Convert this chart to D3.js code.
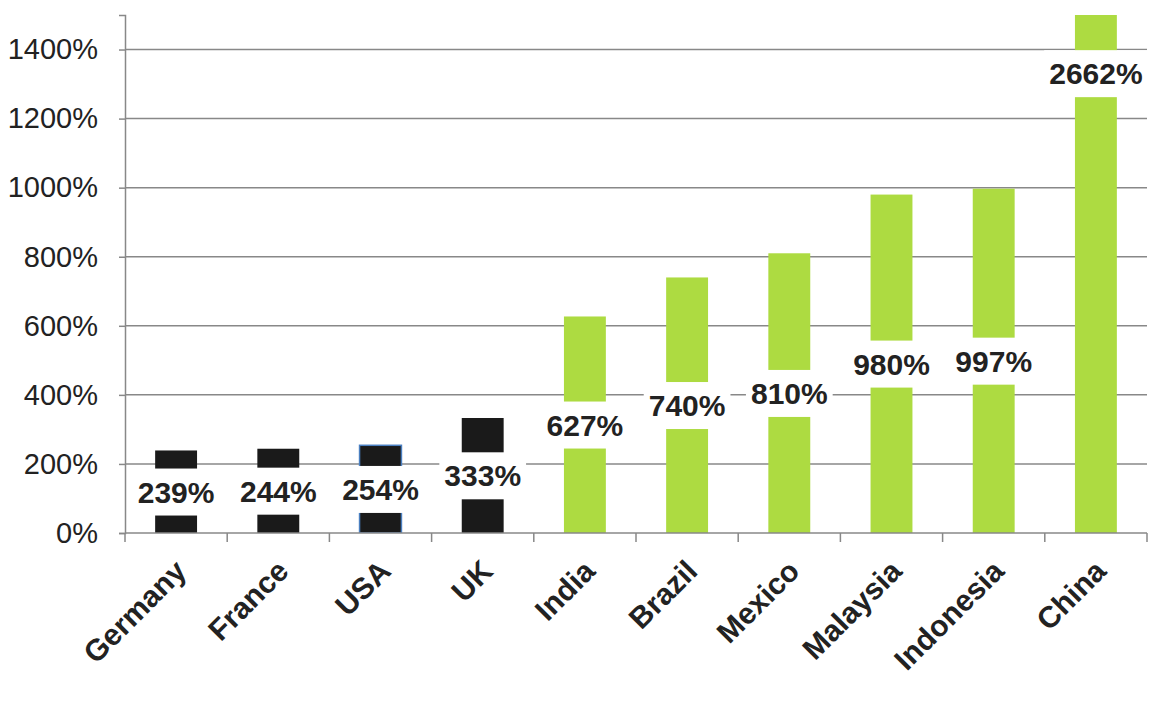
<!DOCTYPE html>
<html><head><meta charset="utf-8">
<script src="https://cdn.jsdelivr.net/npm/d3@7"></script>
<style>body{margin:0;background:#fff}</style>
</head><body>
<div id="chart"></div>
<script>
// data
const countries = ["Germany","France","USA","UK","India","Brazil","Mexico","Malaysia","Indonesia","China"]
const growth = [239,244,254,333,627,740,810,980,997,2662]
const developed = [true,true,true,true,false,false,false,false,false,false]
const yTicks = [0,200,400,600,800,1000,1200,1400]

const width = 1170, height = 703
const margin = {top: 15, right: 23, bottom: 170, left: 125}

const svg = d3.select("#chart").append("svg")
  .attr("width", width).attr("height", height)
  .style("font-family", "Helvetica, Arial, 'Liberation Sans', sans-serif")

const x = d3.scaleBand().domain(countries)
  .range([margin.left, width - margin.right]).paddingInner(0.59).paddingOuter(0.295)
const y = d3.scaleLinear().domain([0, 1500]).range([height - margin.bottom, margin.top])

// gridlines
svg.append("g").selectAll("line").data(yTicks.slice(1)).join("line")
  .attr("x1", margin.left).attr("x2", width - margin.right)
  .attr("y1", d => y(d)).attr("y2", d => y(d))
  .attr("stroke", "#888").attr("stroke-width", 1.5)

// y axis
const yAxis = svg.append("g").attr("transform", `translate(${margin.left},0)`)
  .call(d3.axisLeft(y).tickValues(yTicks).tickFormat(d => d + "%").tickSize(6).tickPadding(21))
yAxis.select(".domain").attr("stroke", "#888").attr("stroke-width", 1.5)
yAxis.selectAll(".tick line").attr("stroke", "#888").attr("stroke-width", 1.5)
yAxis.selectAll("text").attr("font-size", 29).attr("fill", "#222")

// clip for bars
svg.append("clipPath").attr("id", "plot").append("rect")
  .attr("x", margin.left).attr("y", margin.top)
  .attr("width", width - margin.left - margin.right).attr("height", height - margin.bottom - margin.top)

const data = countries.map((c, i) => ({c, v: growth[i], dev: developed[i]}))

svg.append("g").attr("clip-path", "url(#plot)").selectAll("rect").data(data).join("rect")
  .attr("x", d => x(d.c)).attr("width", x.bandwidth())
  .attr("y", d => y(d.v)).attr("height", d => y(0) - y(d.v))
  .attr("fill", d => d.dev ? "#1a1a1a" : "#addb41")
  .attr("stroke", d => d.c === "USA" ? "#4a7fc0" : "none").attr("stroke-width", 1.5)

// x axis
const xAxisG = svg.append("g").attr("transform", `translate(0,${y(0)})`)
xAxisG.append("line").attr("x1", margin.left).attr("x2", width - margin.right)
  .attr("stroke", "#888").attr("stroke-width", 1.5)
const step = x.step()
xAxisG.selectAll(".tk").data(d3.range(countries.length + 1)).join("line")
  .attr("x1", i => margin.left + i * step).attr("x2", i => margin.left + i * step)
  .attr("y1", 0).attr("y2", 9).attr("stroke", "#888").attr("stroke-width", 1.5)
xAxisG.selectAll("text").data(countries).join("text")
  .attr("transform", d => `translate(${x(d) + x.bandwidth() / 2 + 12},${40}) rotate(-45)`)
  .attr("text-anchor", "end").attr("font-size", 30).attr("font-weight", "bold").attr("fill", "#222")
  .text(d => d)

// value labels with white background
const labels = svg.append("g").selectAll("g").data(data).join("g")
  .attr("transform", d => `translate(${x(d.c) + x.bandwidth() / 2},${y(d.v / 2)})`)
labels.append("text")
  .attr("text-anchor", "middle").attr("dy", "0.36em")
  .attr("font-size", 30).attr("font-weight", "bold").attr("fill", "#222")
  .text(d => d.v + "%")
labels.each(function() {
  const g = d3.select(this)
  const b = g.select("text").node().getBBox()
  g.insert("rect", "text").attr("x", b.x - 5).attr("y", b.y - 7)
    .attr("width", b.width + 10).attr("height", b.height + 14).attr("fill", "#fff")
})
</script>
</body></html>
